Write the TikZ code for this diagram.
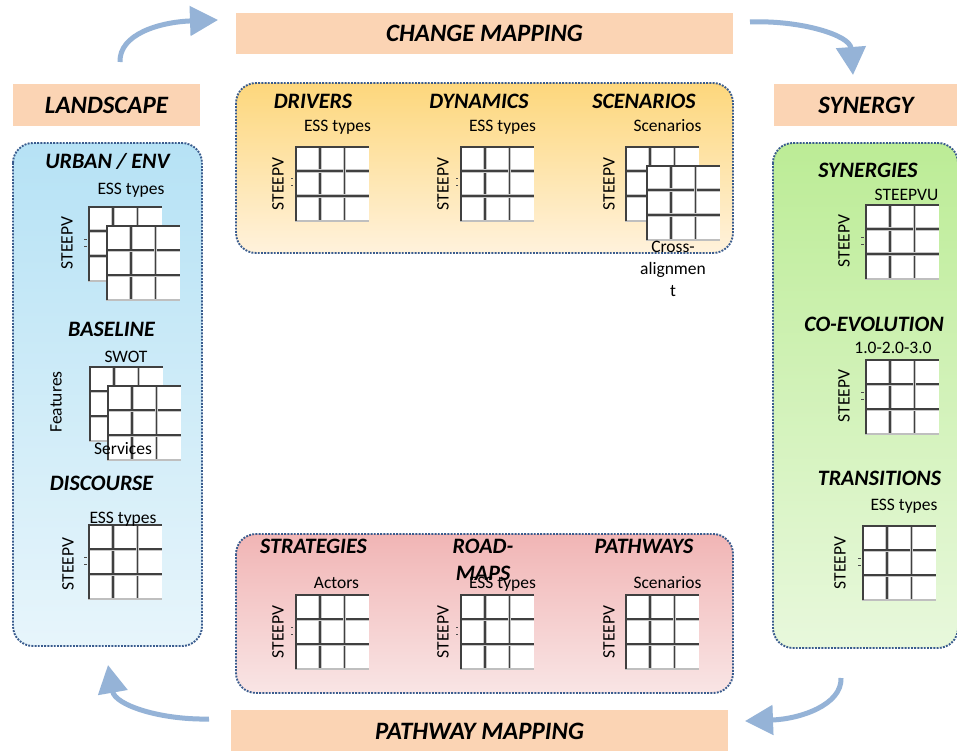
\documentclass[tikz,border=0pt]{standalone}
\usepackage{fontspec}
\setmainfont{Carlito}
\usetikzlibrary{arrows.meta,calc}
\definecolor{flowblue}{HTML}{95B3D7}
\definecolor{peach}{HTML}{FBD4B4}
\definecolor{dotblue}{HTML}{3A5C8E}
\definecolor{yelTop}{HTML}{FDD77C}
\definecolor{yelBot}{HTML}{FFF2DC}
\definecolor{redTop}{HTML}{F1B5B5}
\definecolor{redBot}{HTML}{F9E5E5}
\definecolor{bluTop}{HTML}{B6E2F5}
\definecolor{bluBot}{HTML}{E7F5FB}
\definecolor{grnTop}{HTML}{BCEC96}
\definecolor{grnBot}{HTML}{E8F8DC}
\tikzset{
  zone/.style={draw=dotblue, line width=1.9pt, dash pattern=on 1.9pt off 1.3pt, rounded corners=20pt},
  hdrbox/.style={fill=peach, inner sep=0pt, font=\fontsize{25}{30}\selectfont\bfseries\itshape},
  hd/.style={font=\fontsize{22}{26}\selectfont\bfseries\itshape, inner sep=0pt, anchor=base},
  lb/.style={font=\fontsize{17.5}{22}\selectfont, inner sep=0pt, anchor=base},
  rl/.style={font=\fontsize{17.5}{22}\selectfont, inner sep=0pt, rotate=90},
  flow/.style={draw=flowblue, line width=5pt, -{Triangle[length=28pt,width=29pt]}},
  tline/.style={draw=black!75, line width=1.5pt, preaction={draw=black!22, line width=3.4pt}},
  tickmark/.style={draw=black!70, line width=1pt},
  tbl/.style={rectangle, fill=white, inner sep=0pt, minimum width=74pt, minimum height=75pt, anchor=north west,
    path picture={
      \coordinate (tNW) at (path picture bounding box.north west);
      \coordinate (tNE) at (path picture bounding box.north east);
      \coordinate (tSW) at (path picture bounding box.south west);
      \coordinate (tSE) at (path picture bounding box.south east);
      \foreach \k in {1,2}{
        \draw[tline] ($(tNW)!\k/3!(tNE)$) -- ($(tSW)!\k/3!(tSE)$);
        \draw[tline] ($(tNW)!\k/3!(tSW)$) -- ($(tNE)!\k/3!(tSE)$);
      }
      \draw[draw=black!25, line width=2.4pt] (tSW) -- (tSE);
      \draw[tline, line width=2.8pt] (tSW) -- (tNW) -- (tNE);
    }},
}
\newcommand\gridticks[2]{%
  \draw[tickmark] ($(#1.north west)+(-4,33)$) -- ++(#2,0);
  \draw[tickmark] ($(#1.north west)+(-4,40)$) -- ++(#2,0);
}
\begin{document}
\begin{tikzpicture}[x=1pt,y=-1pt]
\useasboundingbox[fill=white] (0,0) rectangle (957,751);

% zones
\path[zone, top color=yelTop, bottom color=yelBot] (236,83) rectangle (733,253);
\path[zone, top color=redTop, bottom color=redBot] (236,534) rectangle (733,693);
\path[zone, top color=bluTop, bottom color=bluBot] (13,143) rectangle (202,646);
\path[zone, top color=grnTop, bottom color=grnBot] (773,143) rectangle (958,648);

% header boxes
\node[hdrbox, minimum width=497pt, minimum height=41pt] (cm) at (484.5,33.5) {CHANGE MAPPING};
\node[hdrbox, minimum width=187pt, minimum height=42pt] (land) at (106.5,105) {LANDSCAPE};
\node[hdrbox, minimum width=184pt, minimum height=42pt] (syn) at (866,105) {SYNERGY};
\node[hdrbox, minimum width=497pt, minimum height=43pt] (pm) at (479.5,731.5) {PATHWAY MAPPING};

% cycle arrows
\coordinate (a1s) at (120,62);  \coordinate (a1e) at (218,20);
\coordinate (a2s) at (750,22);  \coordinate (a2e) at (853,75);
\coordinate (a3s) at (841,678); \coordinate (a3e) at (745,721);
\coordinate (a4s) at (209,719); \coordinate (a4e) at (108,665);
\draw[flow] (a1s) .. controls (119,34) and (160,22) .. (a1e);
\draw[flow] (a2s) .. controls (800,20) and (850,35) .. (a2e);
\draw[flow] (a3s) .. controls (842,705) and (800,719) .. (a3e);
\draw[flow] (a4s) .. controls (160,720) and (115,705) .. (a4e);

% grids
\node[tbl] (gdrv) at (295,146) {};
\node[tbl] (gdyn) at (460,146) {};
\node[tbl] (gscA) at (625,146) {};
\node[tbl] (gscB) at (646,165) {};
\node[tbl] (gurbA) at (88,206) {};
\node[tbl] (gurbB) at (106,225) {};
\node[tbl] (gbasA) at (89,366) {};
\node[tbl] (gbasB) at (107,385) {};
\node[tbl] (gdis) at (88,524) {};
\node[tbl] (gsyn) at (865,204) {};
\node[tbl] (gcoe) at (865,359) {};
\node[tbl] (gtra) at (862,525) {};
\node[tbl] (gstr) at (295,594) {};
\node[tbl] (grdm) at (460,594) {};
\node[tbl] (gpth) at (625,594) {};

\gridticks{gurbA}{3}
\gridticks{gdis}{3}
\gridticks{gsyn}{3}
\gridticks{gcoe}{3}
\gridticks{gtra}{3}
\gridticks{gdrv}{1.5}
\gridticks{gdyn}{1.5}
\gridticks{gstr}{1.5}
\gridticks{grdm}{1.5}

% change mapping texts
\node[hd] (tdrv) at (313,109) {DRIVERS};
\node[hd] (tdyn) at (479,109) {DYNAMICS};
\node[hd] (tscn) at (644,109) {SCENARIOS};
\node[lb] (ldrv) at (337.5,132) {ESS types};
\node[lb] (ldyn) at (502.5,132) {ESS types};
\node[lb] (lscn) at (667.5,132) {Scenarios};
\node[rl] (sdrv) at (278,184) {STEEPV};
\node[rl] (sdyn) at (443,184) {STEEPV};
\node[rl] (sscn) at (609,184) {STEEPV};
\node[lb, align=center, font=\fontsize{17.5}{22}\selectfont] (lcross) at (673,296) {Cross-\\alignmen\\t};

% landscape texts
\node[hd] (turb) at (107.5,169) {URBAN / ENV};
\node[lb] (lurb) at (131,195) {ESS types};
\node[rl] (surb) at (67,243) {STEEPV};
\node[hd] (tbas) at (111.5,336) {BASELINE};
\node[lb] (lbas) at (126,362) {SWOT};
\node[rl] (fbas) at (56,402) {Features};
\node[lb] (sbas) at (123,454) {Services};
\node[hd] (tdis) at (101.5,490) {DISCOURSE};
\node[lb] (ldis) at (123,523) {ESS types};
\node[rl] (sdis) at (68,564) {STEEPV};

% synergy texts
\node[hd] (tsyn) at (868,178) {SYNERGIES};
\node[lb] (lsyn) at (906.5,201) {STEEPVU};
\node[rl] (ssyn) at (844,241) {STEEPV};
\node[hd] (tcoe) at (874,331) {CO-EVOLUTION};
\node[lb] (lcoe) at (893,353) {1.0-2.0-3.0};
\node[rl] (scoe) at (844,396) {STEEPV};
\node[hd] (ttra) at (879.5,485) {TRANSITIONS};
\node[lb] (ltra) at (904,510) {ESS types};
\node[rl] (stra) at (840,563) {STEEPV};

% pathway mapping texts
\node[hd] (tstr) at (313.5,553) {STRATEGIES};
\node[hd] (trd1) at (483,553) {ROAD-};
\node[hd] (trd2) at (483,580) {MAPS};
\node[hd] (tpth) at (644,553) {PATHWAYS};
\node[lb] (lstr) at (336.5,588) {Actors};
\node[lb] (lrdm) at (502.5,588) {ESS types};
\node[lb] (lpth) at (667.5,588) {Scenarios};
\node[rl] (sstr) at (278,632) {STEEPV};
\node[rl] (srdm) at (443,632) {STEEPV};
\node[rl] (spth) at (609,632) {STEEPV};
\end{tikzpicture}
\end{document}
